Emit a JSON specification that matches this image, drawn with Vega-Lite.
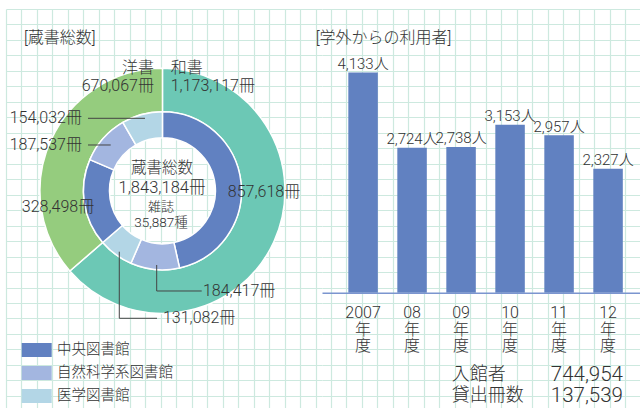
{
  "$schema": "https://vega.github.io/schema/vega-lite/v6.json",
  "padding": {"left": 6, "top": 9, "right": 0, "bottom": 0},
  "background": "white",
  "bounds": "flush",
  "spacing": 0,
  "datasets": {
    "blank": [{}],
    "holdings": [
      {"library": "中央図書館", "type": "和書", "count": 857618},
      {"library": "自然科学系図書館", "type": "和書", "count": 184417},
      {"library": "医学図書館", "type": "和書", "count": 131082},
      {"library": "中央図書館", "type": "洋書", "count": 328498},
      {"library": "自然科学系図書館", "type": "洋書", "count": 187537},
      {"library": "医学図書館", "type": "洋書", "count": 154032}
    ],
    "journals": [{"item": "雑誌", "count": 35887}],
    "visitors": [
      {"year": "2007", "visitors": 4133},
      {"year": "2008", "visitors": 2724},
      {"year": "2009", "visitors": 2738},
      {"year": "2010", "visitors": 3153},
      {"year": "2011", "visitors": 2957},
      {"year": "2012", "visitors": 2327}
    ],
    "totals": [
      {"item": "入館者", "count": 744954},
      {"item": "貸出冊数", "count": 137539}
    ]
  },
  "hconcat": [
    {
      "width": 316,
      "height": 399,
      "resolve": {"scale": {"color": "independent"}},
      "layer": [
        {
          "data": {"name": "blank"},
          "mark": {"type": "text", "align": "left", "baseline": "middle", "fontSize": 16, "text": "[蔵書総数]"},
          "encoding": {
            "x": {"datum": 1.163, "type": "quantitative", "scale": {"domain": [0, 20.42], "nice": false, "zero": false}, "axis": {"title": null, "grid": true, "gridColor": "#cde9df", "gridWidth": 1.2, "labels": false, "ticks": false, "domain": false, "tickCount": 21}},
            "y": {"datum": 1.906, "type": "quantitative", "scale": {"domain": [0, 25.784], "nice": false, "zero": false, "reverse": true}, "axis": {"title": null, "grid": true, "gridColor": "#cde9df", "gridWidth": 1.2, "labels": false, "ticks": false, "domain": false, "tickCount": 21}}
          }
        },
        {
          "data": {"name": "holdings"},
          "mark": {"type": "arc", "innerRadius": 79, "outerRadius": 122.5, "stroke": "white", "strokeWidth": 1.5},
          "encoding": {
            "x": {"datum": 10.11, "type": "quantitative", "scale": {"domain": [0, 20.42], "nice": false, "zero": false}},
            "y": {"datum": 11.75, "type": "quantitative", "scale": {"domain": [0, 25.784], "nice": false, "zero": false, "reverse": true}},
            "theta": {"field": "count", "aggregate": "sum", "type": "quantitative", "stack": true},
            "color": {"field": "type", "type": "nominal", "scale": {"domain": ["和書", "洋書"], "range": ["#6cc8b5", "#95cc7e"]}, "legend": null},
            "order": {"field": "type", "sort": "ascending"}
          }
        },
        {
          "data": {"name": "holdings"},
          "transform": [{"stack": "count", "groupby": [], "sort": [{"field": "type", "order": "ascending"}, {"field": "count", "order": "descending"}], "as": ["start", "end"]}],
          "mark": {"type": "arc", "innerRadius": 53, "outerRadius": 79, "stroke": "white", "strokeWidth": 1.5},
          "encoding": {
            "x": {"datum": 10.11, "type": "quantitative", "scale": {"domain": [0, 20.42], "nice": false, "zero": false}},
            "y": {"datum": 11.75, "type": "quantitative", "scale": {"domain": [0, 25.784], "nice": false, "zero": false, "reverse": true}},
            "theta": {"field": "start", "type": "quantitative"},
            "theta2": {"field": "end"},
            "color": {
              "field": "library", "type": "nominal",
              "scale": {"domain": ["中央図書館", "自然科学系図書館", "医学図書館"], "range": ["#6181c1", "#a3b6e0", "#b3d6e6"]},
              "legend": {
                "orient": "none", "legendX": 15.7, "legendY": 326, "title": null, "padding": 0,
                "symbolType": "M-1,-0.4667H1V0.4667H-1Z", "symbolSize": 900, "symbolStrokeWidth": 0, "symbolOpacity": 1,
                "rowPadding": -9.5, "labelFontSize": 14.5, "labelOffset": 5.3, "labelColor": "#333"
              }
            }
          }
        },
        {
          "data": {"name": "blank"},
          "mark": {"type": "rule", "color": "#444", "strokeWidth": 1},
          "encoding": {
            "x": {"datum": 5.299, "type": "quantitative", "scale": {"domain": [0, 20.42], "nice": false, "zero": false}},
            "x2": {"datum": 8.982},
            "y": {"datum": 7.063, "type": "quantitative", "scale": {"domain": [0, 25.784], "nice": false, "zero": false, "reverse": true}}
          }
        },
        {
          "data": {"name": "blank"},
          "mark": {"type": "rule", "color": "#444", "strokeWidth": 1},
          "encoding": {
            "x": {"datum": 5.299, "type": "quantitative", "scale": {"domain": [0, 20.42], "nice": false, "zero": false}},
            "x2": {"datum": 6.766},
            "y": {"datum": 8.788, "type": "quantitative", "scale": {"domain": [0, 25.784], "nice": false, "zero": false, "reverse": true}}
          }
        },
        {
          "data": {"name": "blank"},
          "mark": {"type": "rule", "color": "#444", "strokeWidth": 1},
          "encoding": {
            "x": {"datum": 9.738, "type": "quantitative", "scale": {"domain": [0, 20.42], "nice": false, "zero": false}},
            "y": {"datum": 16.543, "type": "quantitative", "scale": {"domain": [0, 25.784], "nice": false, "zero": false, "reverse": true}},
            "y2": {"datum": 18.223}
          }
        },
        {
          "data": {"name": "blank"},
          "mark": {"type": "rule", "color": "#444", "strokeWidth": 1},
          "encoding": {
            "x": {"datum": 9.738, "type": "quantitative", "scale": {"domain": [0, 20.42], "nice": false, "zero": false}},
            "x2": {"datum": 12.646},
            "y": {"datum": 18.223, "type": "quantitative", "scale": {"domain": [0, 25.784], "nice": false, "zero": false, "reverse": true}}
          }
        },
        {
          "data": {"name": "blank"},
          "mark": {"type": "rule", "color": "#444", "strokeWidth": 1},
          "encoding": {
            "x": {"datum": 7.321, "type": "quantitative", "scale": {"domain": [0, 20.42], "nice": false, "zero": false}},
            "y": {"datum": 15.683, "type": "quantitative", "scale": {"domain": [0, 25.784], "nice": false, "zero": false, "reverse": true}},
            "y2": {"datum": 19.987}
          }
        },
        {
          "data": {"name": "blank"},
          "mark": {"type": "rule", "color": "#444", "strokeWidth": 1},
          "encoding": {
            "x": {"datum": 7.321, "type": "quantitative", "scale": {"domain": [0, 20.42], "nice": false, "zero": false}},
            "x2": {"datum": 9.758},
            "y": {"datum": 19.987, "type": "quantitative", "scale": {"domain": [0, 25.784], "nice": false, "zero": false, "reverse": true}}
          }
        },
        {
          "data": {"name": "holdings"},
          "transform": [{"aggregate": [{"op": "sum", "field": "count", "as": "total"}], "groupby": ["type"]}, {"filter": "datum.type == '洋書'"}],
          "mark": {"type": "text", "align": "right", "baseline": "middle", "fontSize": 16, "lineHeight": 18},
          "encoding": {
            "x": {"datum": 9.564, "type": "quantitative", "scale": {"domain": [0, 20.42], "nice": false, "zero": false}},
            "y": {"datum": 3.81, "type": "quantitative", "scale": {"domain": [0, 25.784], "nice": false, "zero": false, "reverse": true}},
            "text": {"value": {"expr": "[datum.type, format(datum.total, ',') + '冊']"}}
          }
        },
        {
          "data": {"name": "holdings"},
          "transform": [{"aggregate": [{"op": "sum", "field": "count", "as": "total"}], "groupby": ["type"]}, {"filter": "datum.type == '和書'"}],
          "mark": {"type": "text", "align": "left", "baseline": "middle", "fontSize": 16, "lineHeight": 18},
          "encoding": {
            "x": {"datum": 10.643, "type": "quantitative", "scale": {"domain": [0, 20.42], "nice": false, "zero": false}},
            "y": {"datum": 3.81, "type": "quantitative", "scale": {"domain": [0, 25.784], "nice": false, "zero": false, "reverse": true}},
            "text": {"value": {"expr": "[datum.type, format(datum.total, ',') + '冊']"}}
          }
        },
        {
          "data": {"name": "holdings"},
          "transform": [{"filter": "datum.library == '医学図書館' && datum.type == '洋書'"}],
          "mark": {"type": "text", "align": "right", "baseline": "middle", "fontSize": 16},
          "encoding": {
            "x": {"datum": 4.911, "type": "quantitative", "scale": {"domain": [0, 20.42], "nice": false, "zero": false}},
            "y": {"datum": 7.063, "type": "quantitative", "scale": {"domain": [0, 25.784], "nice": false, "zero": false, "reverse": true}},
            "text": {"value": {"expr": "format(datum.count, ',') + '冊'"}}
          }
        },
        {
          "data": {"name": "holdings"},
          "transform": [{"filter": "datum.library == '自然科学系図書館' && datum.type == '洋書'"}],
          "mark": {"type": "text", "align": "right", "baseline": "middle", "fontSize": 16},
          "encoding": {
            "x": {"datum": 4.911, "type": "quantitative", "scale": {"domain": [0, 20.42], "nice": false, "zero": false}},
            "y": {"datum": 8.788, "type": "quantitative", "scale": {"domain": [0, 25.784], "nice": false, "zero": false, "reverse": true}},
            "text": {"value": {"expr": "format(datum.count, ',') + '冊'"}}
          }
        },
        {
          "data": {"name": "holdings"},
          "transform": [{"filter": "datum.library == '中央図書館' && datum.type == '洋書'"}],
          "mark": {"type": "text", "align": "center", "baseline": "middle", "fontSize": 16},
          "encoding": {
            "x": {"datum": 3.36, "type": "quantitative", "scale": {"domain": [0, 20.42], "nice": false, "zero": false}},
            "y": {"datum": 12.776, "type": "quantitative", "scale": {"domain": [0, 25.784], "nice": false, "zero": false, "reverse": true}},
            "text": {"value": {"expr": "format(datum.count, ',') + '冊'"}}
          }
        },
        {
          "data": {"name": "holdings"},
          "transform": [{"filter": "datum.library == '中央図書館' && datum.type == '和書'"}],
          "mark": {"type": "text", "align": "center", "baseline": "middle", "fontSize": 16},
          "encoding": {
            "x": {"datum": 16.672, "type": "quantitative", "scale": {"domain": [0, 20.42], "nice": false, "zero": false}},
            "y": {"datum": 11.806, "type": "quantitative", "scale": {"domain": [0, 25.784], "nice": false, "zero": false, "reverse": true}},
            "text": {"value": {"expr": "format(datum.count, ',') + '冊'"}}
          }
        },
        {
          "data": {"name": "holdings"},
          "transform": [{"filter": "datum.library == '自然科学系図書館' && datum.type == '和書'"}],
          "mark": {"type": "text", "align": "left", "baseline": "middle", "fontSize": 16},
          "encoding": {
            "x": {"datum": 12.73, "type": "quantitative", "scale": {"domain": [0, 20.42], "nice": false, "zero": false}},
            "y": {"datum": 18.223, "type": "quantitative", "scale": {"domain": [0, 25.784], "nice": false, "zero": false, "reverse": true}},
            "text": {"value": {"expr": "format(datum.count, ',') + '冊'"}}
          }
        },
        {
          "data": {"name": "holdings"},
          "transform": [{"filter": "datum.library == '医学図書館' && datum.type == '和書'"}],
          "mark": {"type": "text", "align": "left", "baseline": "middle", "fontSize": 16},
          "encoding": {
            "x": {"datum": 10.145, "type": "quantitative", "scale": {"domain": [0, 20.42], "nice": false, "zero": false}},
            "y": {"datum": 19.987, "type": "quantitative", "scale": {"domain": [0, 25.784], "nice": false, "zero": false, "reverse": true}},
            "text": {"value": {"expr": "format(datum.count, ',') + '冊'"}}
          }
        },
        {
          "data": {"name": "blank"},
          "mark": {"type": "text", "align": "center", "baseline": "middle", "fontSize": 15.5, "text": "蔵書総数"},
          "encoding": {
            "x": {"datum": 10.081, "type": "quantitative", "scale": {"domain": [0, 20.42], "nice": false, "zero": false}},
            "y": {"datum": 10.3, "type": "quantitative", "scale": {"domain": [0, 25.784], "nice": false, "zero": false, "reverse": true}}
          }
        },
        {
          "data": {"name": "holdings"},
          "transform": [{"aggregate": [{"op": "sum", "field": "count", "as": "total"}]}],
          "mark": {"type": "text", "align": "center", "baseline": "middle", "fontSize": 16.5},
          "encoding": {
            "x": {"datum": 10.081, "type": "quantitative", "scale": {"domain": [0, 20.42], "nice": false, "zero": false}},
            "y": {"datum": 11.55, "type": "quantitative", "scale": {"domain": [0, 25.784], "nice": false, "zero": false, "reverse": true}},
            "text": {"value": {"expr": "format(datum.total, ',') + '冊'"}}
          }
        },
        {
          "data": {"name": "journals"},
          "mark": {"type": "text", "align": "center", "baseline": "middle", "fontSize": 13},
          "encoding": {
            "x": {"datum": 10.016, "type": "quantitative", "scale": {"domain": [0, 20.42], "nice": false, "zero": false}},
            "y": {"datum": 12.8, "type": "quantitative", "scale": {"domain": [0, 25.784], "nice": false, "zero": false, "reverse": true}},
            "text": {"field": "item"}
          }
        },
        {
          "data": {"name": "journals"},
          "mark": {"type": "text", "align": "center", "baseline": "middle", "fontSize": 13.5},
          "encoding": {
            "x": {"datum": 10.016, "type": "quantitative", "scale": {"domain": [0, 20.42], "nice": false, "zero": false}},
            "y": {"datum": 13.82, "type": "quantitative", "scale": {"domain": [0, 25.784], "nice": false, "zero": false, "reverse": true}},
            "text": {"value": {"expr": "format(datum.count, ',') + '種'"}}
          }
        }
      ]
    },
    {
      "width": 318,
      "height": 399,
      "resolve": {"scale": {"x": "independent", "y": "independent"}, "axis": {"x": "independent", "y": "independent"}},
      "layer": [
        {
          "layer": [
            {
              "data": {"name": "blank"},
              "mark": {"type": "text", "align": "left", "baseline": "middle", "fontSize": 16, "text": "[学外からの利用者]"},
              "encoding": {
                "x": {"datum": 20.01, "type": "quantitative", "scale": {"domain": [20.42, 40.969], "nice": false, "zero": false}, "axis": {"title": null, "grid": true, "gridColor": "#cde9df", "gridWidth": 1.2, "labels": false, "ticks": false, "domain": false, "tickCount": 21}},
                "y": {"datum": 1.861, "type": "quantitative", "scale": {"domain": [0, 25.784], "nice": false, "zero": false, "reverse": true}, "axis": {"title": null, "grid": true, "gridColor": "#cde9df", "gridWidth": 1.2, "labels": false, "ticks": false, "domain": false, "tickCount": 21}}
              }
            },
            {
              "data": {"name": "totals"},
              "transform": [{"filter": "datum.item == '入館者'"}],
              "mark": {"type": "text", "align": "left", "baseline": "middle", "fontSize": 18},
              "encoding": {
                "x": {"datum": 28.8, "type": "quantitative", "scale": {"domain": [20.42, 40.969], "nice": false, "zero": false}},
                "y": {"datum": 23.65, "type": "quantitative", "scale": {"domain": [0, 25.784], "nice": false, "zero": false, "reverse": true}},
                "text": {"field": "item"}
              }
            },
            {
              "data": {"name": "totals"},
              "transform": [{"filter": "datum.item == '入館者'"}],
              "mark": {"type": "text", "align": "right", "baseline": "middle", "fontSize": 20.5},
              "encoding": {
                "x": {"datum": 39.87, "type": "quantitative", "scale": {"domain": [20.42, 40.969], "nice": false, "zero": false}},
                "y": {"datum": 23.65, "type": "quantitative", "scale": {"domain": [0, 25.784], "nice": false, "zero": false, "reverse": true}},
                "text": {"field": "count", "format": ","}
              }
            },
            {
              "data": {"name": "totals"},
              "transform": [{"filter": "datum.item == '貸出冊数'"}],
              "mark": {"type": "text", "align": "left", "baseline": "middle", "fontSize": 18},
              "encoding": {
                "x": {"datum": 28.8, "type": "quantitative", "scale": {"domain": [20.42, 40.969], "nice": false, "zero": false}},
                "y": {"datum": 25.03, "type": "quantitative", "scale": {"domain": [0, 25.784], "nice": false, "zero": false, "reverse": true}},
                "text": {"field": "item"}
              }
            },
            {
              "data": {"name": "totals"},
              "transform": [{"filter": "datum.item == '貸出冊数'"}],
              "mark": {"type": "text", "align": "right", "baseline": "middle", "fontSize": 20.5},
              "encoding": {
                "x": {"datum": 39.87, "type": "quantitative", "scale": {"domain": [20.42, 40.969], "nice": false, "zero": false}},
                "y": {"datum": 25.03, "type": "quantitative", "scale": {"domain": [0, 25.784], "nice": false, "zero": false, "reverse": true}},
                "text": {"field": "count", "format": ","}
              }
            }
          ]
        },
        {
          "data": {"name": "visitors"},
          "encoding": {
            "x": {
              "field": "year", "type": "ordinal",
              "scale": {"type": "band", "paddingInner": 0.398, "paddingOuter": 0.444, "align": 0.605},
              "axis": {
                "orient": "bottom", "offset": -115.3, "title": null, "ticks": false, "grid": false,
                "labelAngle": 0, "labelOverlap": false, "labelFontSize": 16, "labelLineHeight": 16.5,
                "labelPadding": 12, "labelColor": "#333", "domainColor": "#7b95cf", "domainWidth": 1.5, "zindex": 1,
                "labelExpr": "[datum.value == '2007' ? '2007' : substring(datum.value, 2, 4), '年', '度']"
              }
            },
            "y": {"field": "visitors", "type": "quantitative", "scale": {"domain": [-2165.3, 5327.7], "nice": false, "zero": false}, "axis": null}
          },
          "layer": [
            {"mark": {"type": "bar", "color": "#6181c1"}},
            {
              "mark": {"type": "text", "baseline": "alphabetic", "dy": -3.5, "fontSize": 15},
              "encoding": {"text": {"value": {"expr": "format(datum.visitors, ',') + '人'"}}}
            }
          ]
        }
      ]
    }
  ],
  "config": {
    "view": {"stroke": null},
    "font": "Roboto, Noto Sans CJK JP, sans-serif",
    "text": {"color": "#333", "font": "Roboto, Noto Sans CJK JP, sans-serif", "fontWeight": 300},
    "axis": {"labelFont": "Roboto, Noto Sans CJK JP, sans-serif", "labelFontWeight": 300},
    "axisQuantitative": {"grid": true, "labels": false, "ticks": false, "domain": false, "gridColor": "#cde9df", "gridWidth": 1.2, "titleOpacity": 0, "tickCount": 21},
    "legend": {"labelFont": "Roboto, Noto Sans CJK JP, sans-serif", "labelFontWeight": 300}
  }
}
